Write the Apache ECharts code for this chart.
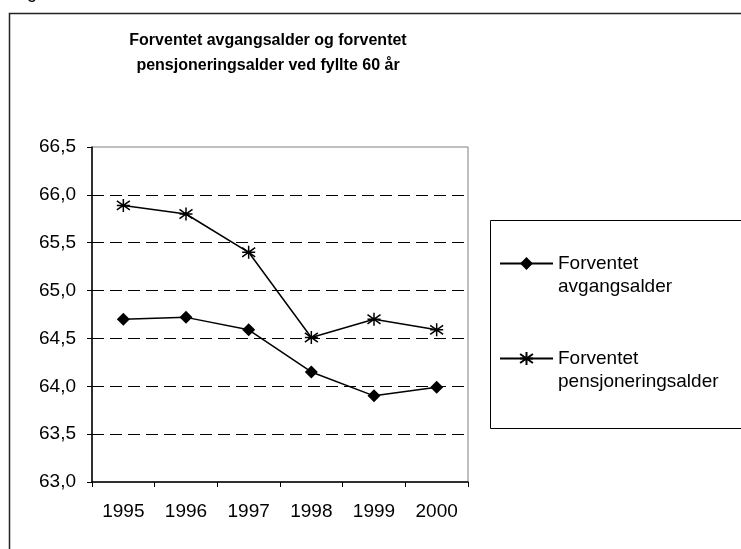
<!DOCTYPE html>
<html lang="no">
<head>
  <meta charset="UTF-8">
  <title>Forventet avgangsalder</title>
  <style>
    html, body { margin: 0; padding: 0; background: #fff; }
    #chart { width: 741px; height: 549px; }
  </style>
  <script src="https://cdn.jsdelivr.net/npm/echarts@6/dist/echarts.min.js"></script>
</head>
<body>
<div id="chart"></div>
<script>
  // data
  var years = ['1995', '1996', '1997', '1998', '1999', '2000'];
  var avgangsalder = [64.70, 64.72, 64.59, 64.15, 63.90, 63.99];
  var pensjoneringsalder = [65.89, 65.80, 65.40, 64.51, 64.70, 64.59];
  var seriesNames = ['Forventet\navgangsalder', 'Forventet\npensjoneringsalder'];

  var font = 'Arial, "Liberation Sans", sans-serif';
  // asterisk marker (vertical bar + X)
  var starPath = 'path://M5,0L5,10M0,1.5L10,8.5M0,8.5L10,1.5M0,5L10,5';

  var myChart = echarts.init(document.getElementById('chart'));
  var option = {
    animation: false,
    title: {
      text: 'Forventet avgangsalder og forventet\npensjoneringsalder ved fyllte 60 år',
      left: 268,
      top: 28,
      padding: 0,
      textAlign: 'center',
      textStyle: { fontFamily: font, fontSize: 16, fontWeight: 'bold', color: '#000', lineHeight: 25 }
    },
    graphic: [
      { type: 'rect', z: -10, shape: { x: 9.5, y: 13.5, width: 800, height: 600 },
        style: { fill: '#fff', stroke: '#222', lineWidth: 1.5 } },
      { type: 'text', z: -5, left: 27, top: -16, style: { text: 'g', font: '18px ' + font, fill: '#000' } },
      { type: 'rect', z: -5, shape: { x: 490.5, y: 220.5, width: 300, height: 208 },
        style: { fill: '#fff', stroke: '#000', lineWidth: 1 } }
    ],
    legend: {
      orient: 'vertical',
      left: 494,
      top: 224,
      itemWidth: 53,
      itemHeight: 16,
      itemGap: 26,
      data: seriesNames,
      // empty first line so the icon sits level with "Forventet"
      formatter: function (name) { return '\n' + name; },
      textStyle: { fontFamily: font, fontSize: 19, color: '#000', lineHeight: 23 }
    },
    grid: {
      left: 92, right: 273, top: 147, bottom: 67,
      show: true, borderColor: '#808080', borderWidth: 1, backgroundColor: '#fff'
    },
    xAxis: {
      type: 'category',
      data: years,
      boundaryGap: true,
      axisLine: { lineStyle: { color: '#000', width: 1.5 } },
      axisTick: { show: true, inside: false, length: 5, lineStyle: { color: '#000' } },
      axisLabel: { margin: 20, fontFamily: font, fontSize: 19, color: '#000' }
    },
    yAxis: {
      type: 'value',
      min: 63, max: 66.5, interval: 0.5,
      axisLine: { show: true, lineStyle: { color: '#000', width: 1.5 } },
      axisTick: { show: true, length: 5, lineStyle: { color: '#000' } },
      axisLabel: {
        margin: 16, fontFamily: font, fontSize: 19, color: '#000',
        formatter: function (v) { return v.toFixed(1).replace('.', ','); }
      },
      splitLine: {
        show: true, showMinLine: false, showMaxLine: false,
        lineStyle: { color: '#000', type: [12, 6], width: 1 }
      }
    },
    series: [
      {
        name: seriesNames[0],
        type: 'line',
        data: avgangsalder,
        symbol: 'diamond',
        symbolSize: 13,
        lineStyle: { color: '#000', width: 1.5 },
        itemStyle: { color: '#000' }
      },
      {
        name: seriesNames[1],
        type: 'line',
        data: pensjoneringsalder,
        symbol: starPath,
        symbolSize: 13,
        lineStyle: { color: '#000', width: 1.5 },
        itemStyle: { color: '#000', borderColor: '#000', borderWidth: 1.5 }
      }
    ]
  };
  myChart.setOption(option);
</script>
</body>
</html>
